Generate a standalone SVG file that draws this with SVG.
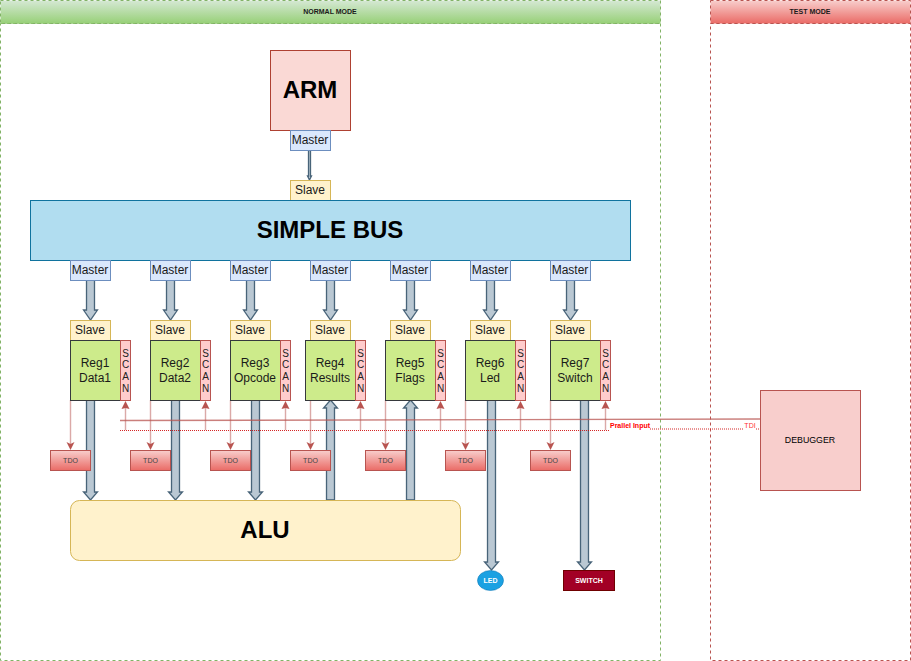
<svg xmlns="http://www.w3.org/2000/svg" width="911" height="661" viewBox="0 0 911 661">
<style>
text{font-family:"Liberation Sans",Arial,sans-serif;text-anchor:middle;fill:#1a1a1a}
.m{fill:#dae8fc;stroke:#6c8ebf}
.s{fill:#fff2cc;stroke:#d6b656}
.r{fill:#cdeb8b;stroke:#36393d}
.c{fill:#ffcccc;stroke:#b85450}
.t{fill:url(#gr);stroke:#b85450}
.l12{font-size:12px}
.sc{font-size:10px;fill:#222}
.td{font-size:7px;fill:#444}
.b{fill:#bac8d3;stroke:#23445d;stroke-width:1.3;stroke-opacity:.8}
.red{stroke:#b85450;fill:none;stroke-opacity:.5;stroke-width:1.4}
.rh{fill:#b85450;stroke:none}
</style>
<defs>
<linearGradient id="gg" x1="0" y1="0" x2="0" y2="1"><stop offset="0" stop-color="#d5e8d4"/><stop offset="1" stop-color="#97d077"/></linearGradient>
<linearGradient id="gr" x1="0" y1="0" x2="0" y2="1"><stop offset="0" stop-color="#f8cecc"/><stop offset="1" stop-color="#ea6b66"/></linearGradient>
</defs>
<g id="normal-mode">
<rect x="0.5" y="23.5" width="660" height="637" fill="none" stroke="#82b366" stroke-dasharray="3 3"/>
<rect x="0.5" y="0.5" width="660" height="23" fill="url(#gg)" stroke="#82b366" stroke-dasharray="3 3"/>
<text x="330" y="14" style="font-size:7px;font-weight:bold">NORMAL MODE</text>
</g>
<g id="test-mode">
<rect x="710.5" y="23.5" width="200" height="637" fill="none" stroke="#b85450" stroke-dasharray="3 3"/>
<rect x="710.5" y="0.5" width="200" height="23" fill="url(#gr)" stroke="#b85450" stroke-dasharray="3 3"/>
<text x="810" y="14" style="font-size:7px;font-weight:bold">TEST MODE</text>
</g>
<g id="connectors">
<path class="b" d="M308.500 150v26h-1l2 4l2 -4h-1v-26z"/>
<path class="b" d="M86.500 280v30h-3l7 10l7 -10h-3v-30z"/>
<path class="b" d="M166.500 280v30h-3l7 10l7 -10h-3v-30z"/>
<path class="b" d="M246.500 280v30h-3l7 10l7 -10h-3v-30z"/>
<path class="b" d="M326.500 280v30h-3l7 10l7 -10h-3v-30z"/>
<path class="b" d="M406.500 280v30h-3l7 10l7 -10h-3v-30z"/>
<path class="b" d="M486.500 280v30h-3l7 10l7 -10h-3v-30z"/>
<path class="b" d="M566.500 280v30h-3l7 10l7 -10h-3v-30z"/>
<path class="b" d="M86.500 400v92h-3l7 8l7 -8h-3v-92z"/>
<path class="b" d="M171.500 400v92h-3l7 8l7 -8h-3v-92z"/>
<path class="b" d="M251.500 400v92h-3l7 8l7 -8h-3v-92z"/>
<path class="b" d="M326.500 500v-92h-3l7 -8l7 8h-3v92z"/>
<path class="b" d="M406.500 500v-92h-3l7 -8l7 8h-3v92z"/>
<path class="b" d="M487.500 400v162h-3l7 8l7 -8h-3v-162z"/>
<path class="b" d="M580.500 400v162h-3l7 8l7 -8h-3v-162z"/>
<path d="M120 420.500L760 419" fill="none" stroke="#b85450" stroke-width="1.4" stroke-opacity=".75"/>
<path d="M120 430.500H610M650 429H743M756 429H760" fill="none" stroke="#cc0000" stroke-dasharray="1 1" stroke-opacity=".85"/>
<path class="red" d="M70.500 400V444M150.500 400V444M230.500 400V444M310.500 400V444M385.500 400V444M465.500 400V444M550.500 400V444"/>
<path class="red" d="M125.500 430V406M205.500 430V406M285.500 430V406M360.500 430V406M440.500 430V406M520.500 430V406M605.500 430V406"/>
<path class="rh" d="M66.500 442L70.500 450L74.500 442L70.500 444ZM146.500 442L150.500 450L154.500 442L150.500 444ZM226.500 442L230.500 450L234.500 442L230.500 444ZM306.500 442L310.500 450L314.500 442L310.500 444ZM381.500 442L385.500 450L389.500 442L385.500 444ZM461.500 442L465.500 450L469.500 442L465.500 444ZM546.500 442L550.500 450L554.500 442L550.500 444Z"/>
<path class="rh" d="M121.500 409L125.500 401L129.500 409L125.500 408ZM201.500 409L205.500 401L209.500 409L205.500 408ZM281.500 409L285.500 401L289.500 409L285.500 408ZM356.500 409L360.500 401L364.500 409L360.500 408ZM436.500 409L440.500 401L444.500 409L440.500 408ZM516.500 409L520.500 401L524.500 409L520.500 408ZM601.500 409L605.500 401L609.500 409L605.500 408Z"/>
<text x="630" y="428" style="font-size:7px;font-weight:bold;fill:#ff0000">Prallel Input</text>
<text x="750" y="428" style="font-size:7px;fill:#ff3333">TDI</text>
</g>
<g id="arm"><rect x="270.500" y="50.500" width="80" height="80" fill="#fad9d5" stroke="#ae4132"/><text x="310" y="98" style="font-size:24px;font-weight:bold;fill:#000">ARM</text></g>
<g id="arm-master"><rect class="m" x="290.500" y="130.500" width="40" height="20"/><text class="l12" x="310" y="144">Master</text></g>
<g id="bus-slave"><rect class="s" x="290.500" y="180.500" width="40" height="20"/><text class="l12" x="310" y="194">Slave</text></g>
<g id="simple-bus"><rect x="30.500" y="200.500" width="600" height="60" fill="#b1ddf0" stroke="#10739e"/><text x="330" y="238" style="font-size:24px;font-weight:bold;fill:#000">SIMPLE BUS</text></g>
<g id="master1"><rect class="m" x="70.500" y="260.500" width="40" height="20"/><text class="l12" x="90" y="274">Master</text></g>
<g id="master2"><rect class="m" x="150.500" y="260.500" width="40" height="20"/><text class="l12" x="170" y="274">Master</text></g>
<g id="master3"><rect class="m" x="230.500" y="260.500" width="40" height="20"/><text class="l12" x="250" y="274">Master</text></g>
<g id="master4"><rect class="m" x="310.500" y="260.500" width="40" height="20"/><text class="l12" x="330" y="274">Master</text></g>
<g id="master5"><rect class="m" x="390.500" y="260.500" width="40" height="20"/><text class="l12" x="410" y="274">Master</text></g>
<g id="master6"><rect class="m" x="470.500" y="260.500" width="40" height="20"/><text class="l12" x="490" y="274">Master</text></g>
<g id="master7"><rect class="m" x="550.500" y="260.500" width="40" height="20"/><text class="l12" x="570" y="274">Master</text></g>
<g id="slave1"><rect class="s" x="70.500" y="320.500" width="40" height="20"/><text class="l12" x="90" y="334">Slave</text></g>
<g id="slave2"><rect class="s" x="150.500" y="320.500" width="40" height="20"/><text class="l12" x="170" y="334">Slave</text></g>
<g id="slave3"><rect class="s" x="230.500" y="320.500" width="40" height="20"/><text class="l12" x="250" y="334">Slave</text></g>
<g id="slave4"><rect class="s" x="310.500" y="320.500" width="40" height="20"/><text class="l12" x="330" y="334">Slave</text></g>
<g id="slave5"><rect class="s" x="390.500" y="320.500" width="40" height="20"/><text class="l12" x="410" y="334">Slave</text></g>
<g id="slave6"><rect class="s" x="470.500" y="320.500" width="40" height="20"/><text class="l12" x="490" y="334">Slave</text></g>
<g id="slave7"><rect class="s" x="550.500" y="320.500" width="40" height="20"/><text class="l12" x="570" y="334">Slave</text></g>
<g id="reg1"><rect class="r" x="70.500" y="340.500" width="50" height="60"/><text class="l12" x="95" y="367">Reg1</text><text class="l12" x="95" y="382">Data1</text></g>
<g id="reg2"><rect class="r" x="150.500" y="340.500" width="50" height="60"/><text class="l12" x="175" y="367">Reg2</text><text class="l12" x="175" y="382">Data2</text></g>
<g id="reg3"><rect class="r" x="230.500" y="340.500" width="50" height="60"/><text class="l12" x="255" y="367">Reg3</text><text class="l12" x="255" y="382">Opcode</text></g>
<g id="reg4"><rect class="r" x="305.500" y="340.500" width="50" height="60"/><text class="l12" x="330" y="367">Reg4</text><text class="l12" x="330" y="382">Results</text></g>
<g id="reg5"><rect class="r" x="385.500" y="340.500" width="50" height="60"/><text class="l12" x="410" y="367">Reg5</text><text class="l12" x="410" y="382">Flags</text></g>
<g id="reg6"><rect class="r" x="465.500" y="340.500" width="50" height="60"/><text class="l12" x="490" y="367">Reg6</text><text class="l12" x="490" y="382">Led</text></g>
<g id="reg7"><rect class="r" x="550.500" y="340.500" width="50" height="60"/><text class="l12" x="575" y="367">Reg7</text><text class="l12" x="575" y="382">Switch</text></g>
<g id="scan1"><rect class="c" x="120.500" y="340.500" width="10" height="60"/><text class="sc" x="125.500" y="357">S</text><text class="sc" x="125.500" y="368">C</text><text class="sc" x="125.500" y="380">A</text><text class="sc" x="125.500" y="392">N</text></g>
<g id="scan2"><rect class="c" x="200.500" y="340.500" width="10" height="60"/><text class="sc" x="205.500" y="357">S</text><text class="sc" x="205.500" y="368">C</text><text class="sc" x="205.500" y="380">A</text><text class="sc" x="205.500" y="392">N</text></g>
<g id="scan3"><rect class="c" x="280.500" y="340.500" width="10" height="60"/><text class="sc" x="285.500" y="357">S</text><text class="sc" x="285.500" y="368">C</text><text class="sc" x="285.500" y="380">A</text><text class="sc" x="285.500" y="392">N</text></g>
<g id="scan4"><rect class="c" x="355.500" y="340.500" width="10" height="60"/><text class="sc" x="360.500" y="357">S</text><text class="sc" x="360.500" y="368">C</text><text class="sc" x="360.500" y="380">A</text><text class="sc" x="360.500" y="392">N</text></g>
<g id="scan5"><rect class="c" x="435.500" y="340.500" width="10" height="60"/><text class="sc" x="440.500" y="357">S</text><text class="sc" x="440.500" y="368">C</text><text class="sc" x="440.500" y="380">A</text><text class="sc" x="440.500" y="392">N</text></g>
<g id="scan6"><rect class="c" x="515.500" y="340.500" width="10" height="60"/><text class="sc" x="520.500" y="357">S</text><text class="sc" x="520.500" y="368">C</text><text class="sc" x="520.500" y="380">A</text><text class="sc" x="520.500" y="392">N</text></g>
<g id="scan7"><rect class="c" x="600.500" y="340.500" width="10" height="60"/><text class="sc" x="605.500" y="357">S</text><text class="sc" x="605.500" y="368">C</text><text class="sc" x="605.500" y="380">A</text><text class="sc" x="605.500" y="392">N</text></g>
<g id="tdo1"><rect class="t" x="50.500" y="450.500" width="40" height="20"/><text class="td" x="70.500" y="463">TDO</text></g>
<g id="tdo2"><rect class="t" x="130.500" y="450.500" width="40" height="20"/><text class="td" x="150.500" y="463">TDO</text></g>
<g id="tdo3"><rect class="t" x="210.500" y="450.500" width="40" height="20"/><text class="td" x="230.500" y="463">TDO</text></g>
<g id="tdo4"><rect class="t" x="290.500" y="450.500" width="40" height="20"/><text class="td" x="310.500" y="463">TDO</text></g>
<g id="tdo5"><rect class="t" x="365.500" y="450.500" width="40" height="20"/><text class="td" x="385.500" y="463">TDO</text></g>
<g id="tdo6"><rect class="t" x="445.500" y="450.500" width="40" height="20"/><text class="td" x="465.500" y="463">TDO</text></g>
<g id="tdo7"><rect class="t" x="530.500" y="450.500" width="40" height="20"/><text class="td" x="550.500" y="463">TDO</text></g>
<g id="alu"><rect x="70.500" y="500.500" width="390" height="60" rx="9" fill="#fff2cc" stroke="#d6b656"/><text x="265" y="538" style="font-size:24px;font-weight:bold;fill:#000">ALU</text></g>
<g id="led"><ellipse cx="490.500" cy="580.500" rx="13" ry="10" fill="#1ba1e2" stroke="#006eaf" stroke-opacity=".5"/><text x="490.500" y="583" style="font-size:7px;font-weight:bold;fill:#fff">LED</text></g>
<g id="switch"><rect x="563.500" y="570.500" width="51" height="20" fill="#a20025" stroke="#6f0000"/><text x="589" y="583" style="font-size:7px;font-weight:bold;fill:#fff">SWITCH</text></g>
<g id="debugger"><rect x="760.500" y="390.500" width="100" height="100" fill="#f8cecc" stroke="#b85450"/><text x="810" y="443" style="font-size:8.800px;fill:#000">DEBUGGER</text></g>
</svg>
